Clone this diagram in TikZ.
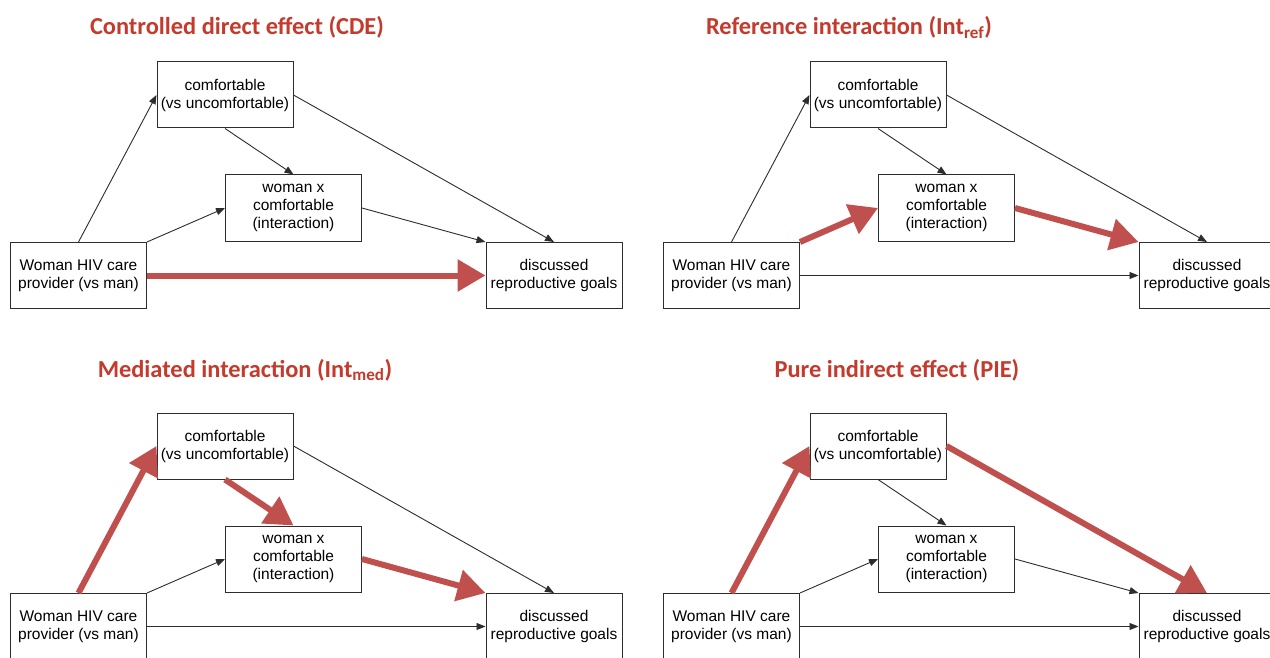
\documentclass[tikz,border=0pt]{standalone}
\usepackage{fontspec}
\setmainfont{Liberation Sans}
\newfontfamily\titlefont{Carlito}
\usetikzlibrary{arrows.meta}
\definecolor{ttlred}{RGB}{196,58,44}
\definecolor{arrred}{RGB}{192,80,77}
\definecolor{linegray}{RGB}{45,45,45}

\begin{document}
\begin{tikzpicture}[x=1pt,y=-1pt,
  box/.style={draw=linegray,line width=1pt,minimum width=136pt,minimum height=66pt,
    inner sep=0pt,align=center,font=\fontsize{15.5}{18}\selectfont},
  plain/.style={draw=linegray,line width=0.9pt,-{Triangle[length=9pt,width=7pt]}},
  effect/.style={draw=arrred,line width=6pt,-{Triangle[length=28pt,width=31pt]}},
  ttl/.style={anchor=base,text=ttlred,font=\titlefont\bfseries\fontsize{24.4}{28}\selectfont}]
%
\useasboundingbox[fill=white] (0,0) rectangle (1270,658);
%
\node [ttl] (t1) at (237,35) {Controlled direct effect (CDE)};
\node [ttl] (t2) at (849,35) {Reference interaction (Int\textsubscript{ref})};
\node [ttl] (t3) at (245,377) {Mediated interaction (Int\textsubscript{med})};
\node [ttl] (t4) at (897,377) {Pure indirect effect (PIE)};
%
% controlled direct effect
\begin{scope}
\node [box] (comf) at (225,95) {comfortable\\(vs uncomfortable)};
\node [box] (womx) at (293.5,208) {woman x\\comfortable\\(interaction)};
\node [box] (hiv) at (78.5,275.5) {Woman HIV care\\provider (vs man)};
\node [box] (disc) at (554,275.5) {discussed\\reproductive goals};
\path[plain] (hiv.north) -- (comf.west);
\path[plain] (comf.south) -- (womx.north);
\path[plain] (comf.east) -- (disc.north);
\path[plain] (hiv.north east) -- (womx.west);
\path[plain] (womx.east) -- (disc.north west);
\path[effect] (hiv.east) -- (disc.west);
\end{scope}
%
% reference interaction
\begin{scope}[shift={(653,0)}]
\node [box] (comf) at (225,95) {comfortable\\(vs uncomfortable)};
\node [box] (womx) at (293.5,208) {woman x\\comfortable\\(interaction)};
\node [box] (hiv) at (78.5,275.5) {Woman HIV care\\provider (vs man)};
\node [box] (disc) at (554,275.5) {discussed\\reproductive goals};
\path[plain] (hiv.north) -- (comf.west);
\path[plain] (comf.south) -- (womx.north);
\path[plain] (comf.east) -- (disc.north);
\path[effect] (hiv.north east) -- (womx.west);
\path[effect] (womx.east) -- (disc.north west);
\path[plain] (hiv.east) -- (disc.west);
\end{scope}
%
% mediated interaction
\begin{scope}[shift={(0,351)}]
\node [box] (comf) at (225,95) {comfortable\\(vs uncomfortable)};
\node [box] (womx) at (293.5,208) {woman x\\comfortable\\(interaction)};
\node [box] (hiv) at (78.5,275.5) {Woman HIV care\\provider (vs man)};
\node [box] (disc) at (554,275.5) {discussed\\reproductive goals};
\path[effect] (hiv.north) -- (comf.west);
\path[effect] (comf.south) -- (womx.north);
\path[plain] (comf.east) -- (disc.north);
\path[plain] (hiv.north east) -- (womx.west);
\path[effect] (womx.east) -- (disc.north west);
\path[plain] (hiv.east) -- (disc.west);
\end{scope}
%
% pure indirect effect
\begin{scope}[shift={(653,351)}]
\node [box] (comf) at (225,95) {comfortable\\(vs uncomfortable)};
\node [box] (womx) at (293.5,208) {woman x\\comfortable\\(interaction)};
\node [box] (hiv) at (78.5,275.5) {Woman HIV care\\provider (vs man)};
\node [box] (disc) at (554,275.5) {discussed\\reproductive goals};
\path[effect] (hiv.north) -- (comf.west);
\path[plain] (comf.south) -- (womx.north);
\path[effect] (comf.east) -- (disc.north);
\path[plain] (hiv.north east) -- (womx.west);
\path[plain] (womx.east) -- (disc.north west);
\path[plain] (hiv.east) -- (disc.west);
\end{scope}
\end{tikzpicture}
\end{document}
